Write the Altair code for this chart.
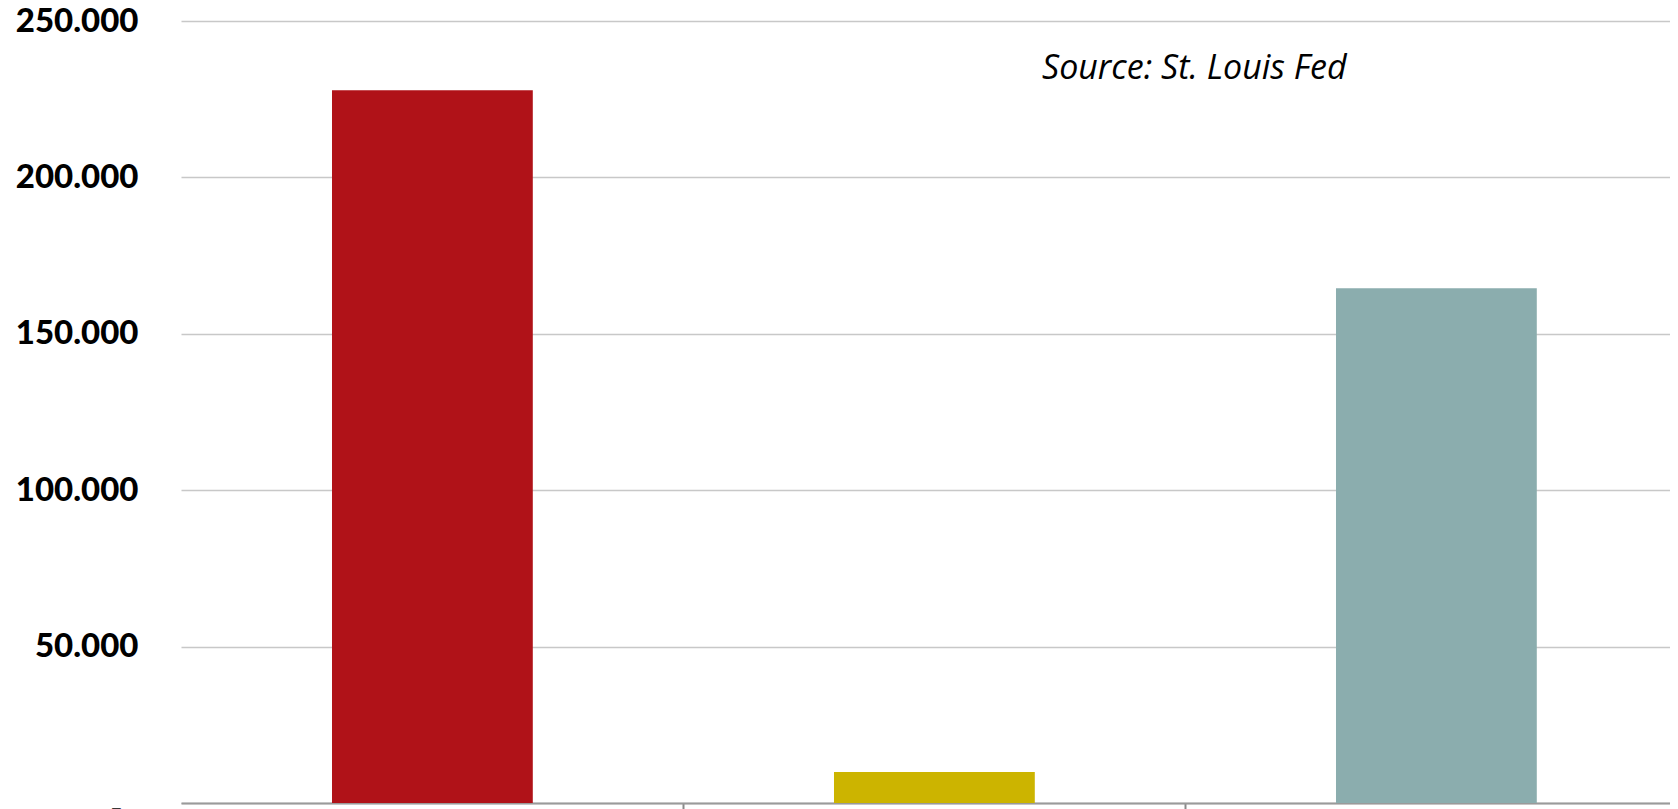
import altair as alt
import pandas as pd

categories = ["Category 1", "Category 2", "Category 3"]
values = [227900, 9900, 164600]
colors = ["#B01218", "#CCB400", "#8BADAE"]
y_ticks = [0, 50000, 100000, 150000, 200000, 250000]
source_note = "Source: St. Louis Fed"

df = pd.DataFrame({"category": categories, "value": values, "color": colors})

bars = alt.Chart(df).mark_bar().encode(
    x=alt.X(
        "category:N",
        sort=categories,
        scale=alt.Scale(paddingInner=0.6, paddingOuter=0.28307, align=0.5313),
        axis=alt.Axis(
            title=None,
            labels=False,
            grid=False,
            values=categories[:2],
            domainColor="#9a9a9a",
            domainWidth=2,
            tickColor="#8a8a8a",
            tickWidth=2,
            tickSize=8,
            tickOffset=251,
        ),
    ),
    y=alt.Y(
        "value:Q",
        scale=alt.Scale(domain=[0, 250000], nice=False),
        axis=alt.Axis(
            title=None,
            values=y_ticks,
            domain=False,
            ticks=False,
            grid=True,
            gridColor="#c8c8c8",
            gridWidth=1.6,
            labelFont="Lato",
            labelFontWeight=900,
            labelFontSize=33,
            labelColor="#000000",
            labelPadding={"condition": {"test": "datum.value === 0", "value": 59}, "value": 43},
            labelOffset={"condition": {"test": "datum.value === 0", "value": 6}, "value": 0},
            labelExpr="datum.value === 0 ? '-' : replace(format(datum.value, ',.0f'), ',', '.')",
        ),
    ),
    color=alt.Color("color:N", scale=None),
)

note = alt.Chart(pd.DataFrame({"note": [source_note]})).mark_text(
    font="Open Sans",
    fontStyle="italic",
    fontSize=34,
    color="#000000",
    align="left",
    baseline="alphabetic",
).encode(
    text="note:N",
    x=alt.value(861),
    y=alt.value(58),
)

chart = alt.layer(bars, note).properties(
    width=1489,
    height=782,
    padding={"left": 173, "top": 13, "right": 0, "bottom": 30},
    autosize=alt.AutoSizeParams(type="none"),
    background="#ffffff",
).configure_view(stroke=None)

chart.save("out.html", embed_options={"renderer": "svg", "actions": False})
